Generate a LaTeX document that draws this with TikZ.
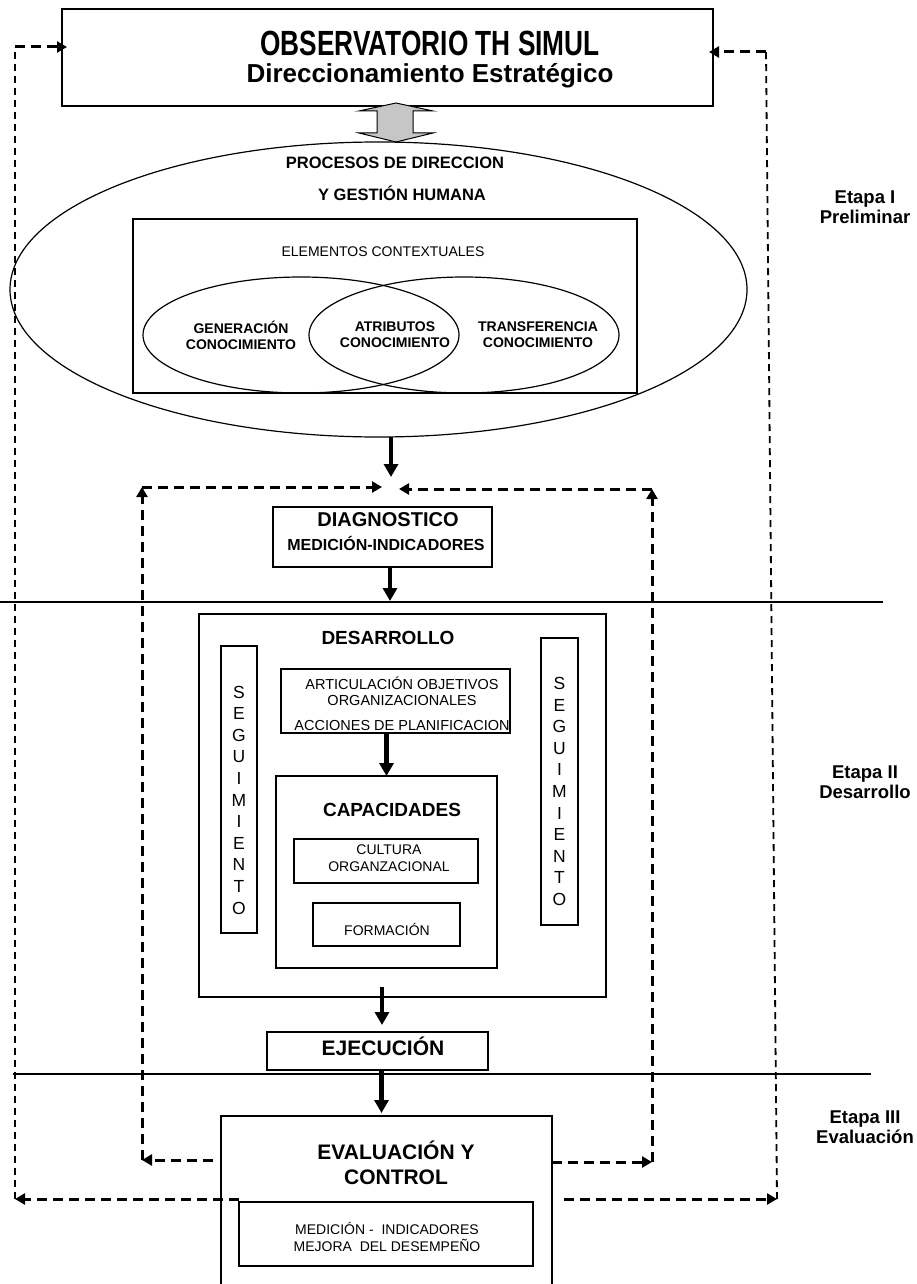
\documentclass[tikz,border=0pt]{standalone}
\usepackage{fontspec}
\usepackage{graphicx}
\setmainfont{Liberation Sans}
\usetikzlibrary{shapes.geometric,arrows.meta}

\begin{document}
\begin{tikzpicture}[x=1pt,y=-1pt,
    caja/.style={draw,line width=1.2pt,inner sep=0pt,outer sep=0pt},
    elipse/.style={draw,ellipse,line width=1.2pt,inner sep=0pt,outer sep=0pt},
    txt/.style={inner sep=0pt,align=center},
    negra/.style={txt,font=\fontsize{#1}{#1}\selectfont\bfseries},
    fina/.style={txt,font=\fontsize{14}{16.5}\selectfont},
    flecha/.style={line width=4.5pt,-{Triangle[length=13pt,width=14pt]}},
    lazo/.style={line width=3pt,dash pattern=on 10pt off 6pt,-{Triangle[length=10pt,width=11pt]}},
    lazofino/.style={line width=1.8pt,dash pattern=on 7pt off 5pt},
    etapa/.style={txt,font=\fontsize{18.5}{20}\selectfont\bfseries}]

    \useasboundingbox (0,0) rectangle (917,1284);
    \clip (0,0) rectangle (917,1284);

    % etapa I
    \node[caja,minimum width=651pt,minimum height=97pt] (obs) at (387.5,57.5) {};
    \node[negra=35,anchor=base] (obs1) at (430,56) {\scalebox{0.75}[1]{OBSERVATORIO TH SIMUL}};
    \node[negra=26,anchor=base] (obs2) at (430,83) {Direccionamiento Estratégico};

    \filldraw[fill=gray!45,line width=1pt] (396,103) -- (433,111) -- (413,111)
      -- (413,133) -- (433,133) -- (396,142) -- (359,133) -- (377,133)
      -- (377,111) -- (359,111) -- cycle;

    \node[elipse,minimum width=737pt,minimum height=295pt] (proc) at (378.5,289.5) {};
    \node[negra=16.5] (proc1) at (395,163) {PROCESOS DE DIRECCION};
    \node[negra=16.5] (proc2) at (402,193) {Y GESTIÓN HUMANA};

    \node[caja,minimum width=504pt,minimum height=174pt] (ctx) at (385,306) {};
    \node[fina] (ctxt) at (383,252) {ELEMENTOS CONTEXTUALES};
    \node[elipse,minimum width=316pt,minimum height=116pt] (gen) at (301,335) {};
    \node[elipse,minimum width=310pt,minimum height=116pt] (tra) at (464,335) {};
    \node[txt,font=\fontsize{14}{16}\selectfont\bfseries] (gent) at (241,335) {GENERACIÓN\\CONOCIMIENTO};
    \node[txt,font=\fontsize{14}{16}\selectfont\bfseries] (att) at (395,335) {ATRIBUTOS\\CONOCIMIENTO};
    \node[txt,font=\fontsize{14}{16}\selectfont\bfseries] (trat) at (538,335) {TRANSFERENCIA\\CONOCIMIENTO};

    \node[caja,minimum width=219pt,minimum height=60pt] (diag) at (382.5,537) {};
    \node[negra=20] (diag1) at (388,520) {DIAGNOSTICO};
    \node[negra=16] (diag2) at (386,543) {MEDICIÓN-INDICADORES};

    % etapa II
    \node[caja,minimum width=407pt,minimum height=383pt] (desa) at (402.5,805.5) {};
    \node[negra=19] (desat) at (388,638) {DESARROLLO};
    \node[caja,minimum width=36pt,minimum height=287pt] (segi) at (239,789.5) {};
    \node[caja,minimum width=37pt,minimum height=287pt] (segd) at (559.5,781.5) {};
    \node[txt,font=\fontsize{17.5}{21.6}\selectfont] (segit) at (239,800) {S\\E\\G\\U\\I\\M\\I\\E\\N\\T\\O};
    \node[txt,font=\fontsize{17.5}{21.6}\selectfont] (segdt) at (559.5,791.5) {S\\E\\G\\U\\I\\M\\I\\E\\N\\T\\O};

    \node[caja,minimum width=229pt,minimum height=64pt] (art) at (395.5,701) {};
    \node[txt,font=\fontsize{14.5}{16.5}\selectfont] (artt) at (402,703.5)
      {ARTICULACIÓN OBJETIVOS\\ORGANIZACIONALES\\[8pt]ACCIONES DE PLANIFICACION};

    \node[caja,minimum width=221pt,minimum height=192pt] (cap) at (386.5,872) {};
    \node[negra=19] (capt) at (392,810) {CAPACIDADES};
    \node[caja,minimum width=184pt,minimum height=44pt] (cult) at (386,861) {};
    \node[txt,font=\fontsize{14}{17}\selectfont] (cultt) at (389,858) {CULTURA\\ORGANZACIONAL};
    \node[caja,minimum width=147pt,minimum height=43pt] (form) at (386.5,924.5) {};
    \node[fina] (formt) at (387,929) {FORMACIÓN};

    \node[caja,minimum width=221pt,minimum height=38pt] (ejec) at (377.5,1051) {};
    \node[negra=21] (eject) at (383,1046) {EJECUCIÓN};

    % etapa III
    \node[caja,minimum width=331pt,minimum height=200pt] (eval) at (386.5,1216) {};
    \node[txt,font=\fontsize{21}{25}\selectfont\bfseries] (evalt) at (396,1163) {EVALUACIÓN Y\\CONTROL};
    \node[caja,minimum width=294pt,minimum height=64pt] (med) at (386,1234) {};
    \node[txt,font=\fontsize{14}{17}\selectfont] (medt) at (387,1237)
      {MEDICIÓN -\ \ INDICADORES\\MEJORA\ \ DEL DESEMPEÑO};

    % etapas
    \draw[line width=1.2pt] (0,602) -- (883,602);
    \draw[line width=1.2pt] (13,1074) -- (871,1074);
    \node[etapa] (e1) at (865,207) {Etapa I\\Preliminar};
    \node[etapa] (e2) at (865,782) {Etapa II\\Desarrollo};
    \node[etapa] (e3) at (865,1127) {Etapa III\\Evaluación};

    % flechas
    \coordinate (cruce) at (391,477);
    \draw[flecha] (cruce |- proc.south) -- (cruce);
    \draw[flecha] ([xshift=7.5pt]diag.south) -- ++(0,34);
    \draw[flecha] (art.south -| cap.north) -- (cap.north);
    \coordinate (b4) at (382,987);
    \draw[flecha] (b4) -- ++(0,38);
    \draw[flecha] ([xshift=4pt]ejec.south) -- ++(0,43);

    % lazos internos
    \coordinate (li) at (142,487);
    \coordinate (ld) at (652,489);
    \coordinate (ci) at (382,487);
    \coordinate (cd) at (399,489);
    \coordinate (lib) at (142,1160);
    \coordinate (ldb) at (652,1162);
    \draw[lazo,shorten <=8pt] (eval.west |- lib) -- (lib);
    \draw[lazo] (lib) -- (li);
    \draw[lazo] (li) -- (ci);
    \draw[lazo] (eval.east |- ldb) -- (ldb);
    \draw[lazo] (ldb) -- (ld);
    \draw[lazo] (ld) -- (cd);

    % lazos externos
    \coordinate (oi) at (15,47);
    \coordinate (od) at (766,52);
    \coordinate (oib) at (15,1199);
    \coordinate (odb) at (777,1199);
    \draw[lazofino] (oib) -- (oi);
    \draw[lazo] (oi) -- ([xshift=5pt]obs.west |- oi);
    \draw[lazo] (med.west |- oib) -- (oib);
    \draw[lazofino] (odb) -- (od);
    \draw[lazo] (od) -- ([xshift=-4pt]obs.east |- od);
    \draw[lazo] ([xshift=12pt]eval.east |- odb) -- (odb);
\end{tikzpicture}
\end{document}
